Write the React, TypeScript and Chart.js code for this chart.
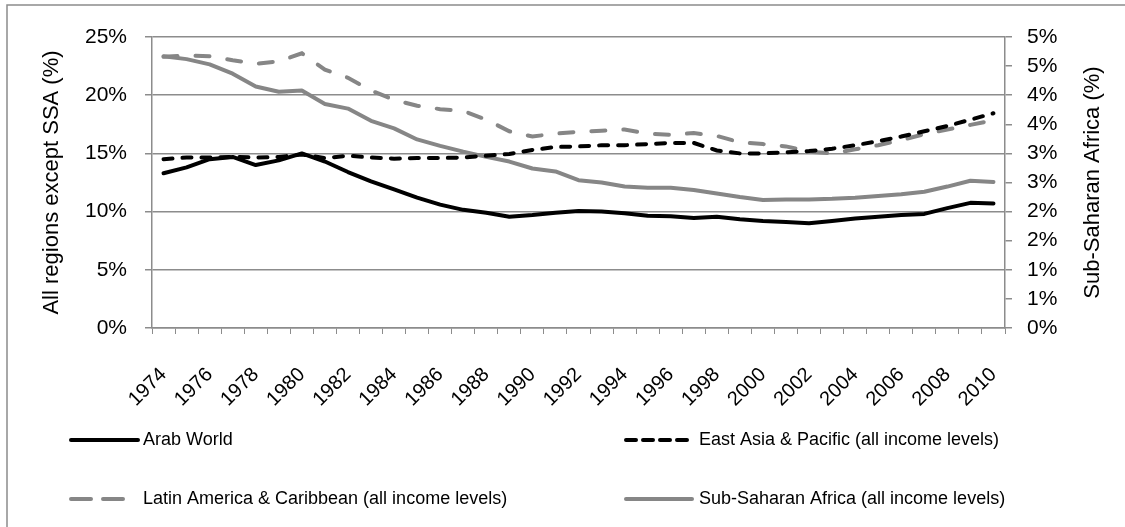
import React, { useEffect, useRef } from 'react';
import { Chart, registerables } from 'chart.js';

Chart.register(...registerables);

const years = [
  '1974', '1975', '1976', '1977', '1978', '1979', '1980', '1981', '1982', '1983',
  '1984', '1985', '1986', '1987', '1988', '1989', '1990', '1991', '1992', '1993',
  '1994', '1995', '1996', '1997', '1998', '1999', '2000', '2001', '2002', '2003',
  '2004', '2005', '2006', '2007', '2008', '2009', '2010',
];

const arabWorld = [
  13.3, 13.8, 14.5, 14.7, 14.0, 14.4, 15.0, 14.3, 13.4, 12.6,
  11.9, 11.2, 10.6, 10.15, 9.9, 9.55, 9.7, 9.9, 10.05, 10.0,
  9.85, 9.65, 9.6, 9.45, 9.55, 9.35, 9.2, 9.1, 9.0, 9.2,
  9.4, 9.55, 9.7, 9.8, 10.3, 10.75, 10.7,
];

const eastAsia = [
  14.5, 14.65, 14.65, 14.7, 14.65, 14.7, 14.9, 14.6, 14.8, 14.65,
  14.55, 14.6, 14.6, 14.65, 14.8, 14.95, 15.3, 15.55, 15.6, 15.7,
  15.7, 15.8, 15.9, 15.9, 15.25, 15.0, 15.0, 15.1, 15.2, 15.4,
  15.7, 16.05, 16.45, 16.9, 17.35, 17.9, 18.45,
];

const latinAmerica = [
  23.3, 23.4, 23.35, 23.0, 22.7, 22.9, 23.6, 22.2, 21.5, 20.4,
  19.6, 19.1, 18.8, 18.65, 17.9, 16.9, 16.45, 16.7, 16.85, 16.95,
  17.05, 16.7, 16.6, 16.75, 16.5, 15.95, 15.8, 15.6, 15.15, 15.0,
  15.35, 15.7, 16.15, 16.65, 17.05, 17.45, 17.85,
];

const subSaharanAfrica = [
  4.67, 4.62, 4.53, 4.37, 4.15, 4.06, 4.08, 3.85, 3.77, 3.56,
  3.43, 3.24, 3.13, 3.03, 2.94, 2.86, 2.74, 2.69, 2.54, 2.5,
  2.43, 2.41, 2.41, 2.37, 2.31, 2.25, 2.2, 2.21, 2.21, 2.22,
  2.24, 2.27, 2.3, 2.34, 2.43, 2.53, 2.51,
];

const seriesLabels = [
  'Arab World',
  'East Asia & Pacific (all income levels)',
  'Latin America & Caribbean (all income levels)',
  'Sub-Saharan Africa (all income levels)',
];

const leftAxisTitle = 'All regions except SSA (%)';
const rightAxisTitle = 'Sub-Saharan Africa (%)';

const FONT = "'Liberation Sans', Arial, sans-serif";
const AXIS_GRAY = '#8c8c8c';
const LINE_GRAY = '#868686';

const decorPlugin = {
  id: 'decor',
  afterDraw(chart: any) {
    const ctx = chart.ctx as CanvasRenderingContext2D;
    const area = chart.chartArea;
    ctx.save();
    // outer frame
    ctx.strokeStyle = AXIS_GRAY;
    ctx.lineWidth = 1.5;
    ctx.strokeRect(7, 5, 1300, 700);

    // right axis title, reading bottom to top
    ctx.save();
    ctx.translate(1093, (area.top + area.bottom) / 2);
    ctx.rotate(-Math.PI / 2);
    ctx.fillStyle = '#000';
    ctx.font = `22px ${FONT}`;
    ctx.textAlign = 'center';
    ctx.textBaseline = 'middle';
    ctx.fillText(rightAxisTitle, 0, 0);
    ctx.restore();

    // legend (2 x 2 grid)
    const legendDash: number[][] = [[], [10, 7], [20, 12], []];
    const legendLen = [67, 66, 52, 66];
    chart.data.datasets.forEach((ds: any, i: number) => {
      const col = i % 2;
      const row = Math.floor(i / 2);
      const x0 = col === 0 ? 71 : 626;
      const y = row === 0 ? 440 : 499;
      ctx.beginPath();
      ctx.setLineDash(legendDash[i]);
      ctx.lineCap = 'round';
      ctx.strokeStyle = ds.borderColor;
      ctx.lineWidth = 4;
      ctx.moveTo(x0, y);
      ctx.lineTo(x0 + legendLen[i], y);
      ctx.stroke();
      ctx.setLineDash([]);
      ctx.fillStyle = '#000';
      ctx.font = `18px ${FONT}`;
      ctx.textBaseline = 'middle';
      ctx.textAlign = 'left';
      ctx.fillText(ds.label, col === 0 ? 143 : 699, y);
    });
    ctx.restore();
  },
};

export default function App() {
  const canvasRef = useRef<HTMLCanvasElement | null>(null);

  useEffect(() => {
    if (!canvasRef.current) return;
    Chart.defaults.color = '#000';
    Chart.defaults.font.family = FONT;

    const chart = new Chart(canvasRef.current, {
      type: 'line',
      data: {
        labels: years,
        datasets: [
          {
            label: seriesLabels[0],
            data: arabWorld,
            borderColor: '#000000',
            borderWidth: 4,
            pointRadius: 0,
            yAxisID: 'y',
            borderCapStyle: 'round',
            borderJoinStyle: 'round',
          },
          {
            label: seriesLabels[1],
            data: eastAsia,
            borderColor: '#000000',
            borderWidth: 4,
            borderDash: [9, 10],
            borderCapStyle: 'round',
            pointRadius: 0,
            yAxisID: 'y',
          },
          {
            label: seriesLabels[2],
            data: latinAmerica,
            borderColor: LINE_GRAY,
            borderWidth: 4,
            borderDash: [14, 18],
            borderCapStyle: 'round',
            pointRadius: 0,
            yAxisID: 'y',
          },
          {
            label: seriesLabels[3],
            data: subSaharanAfrica,
            borderColor: LINE_GRAY,
            borderWidth: 4,
            borderCapStyle: 'round',
            borderJoinStyle: 'round',
            pointRadius: 0,
            yAxisID: 'y1',
          },
        ],
      },
      options: {
        animation: false,
        responsive: true,
        maintainAspectRatio: false,
        layout: { padding: { top: 37, left: 0, right: 0, bottom: 0 } },
        plugins: {
          legend: { display: false },
          tooltip: { enabled: false },
        },
        scales: {
          x: {
            offset: true,
            grid: {
              offset: true,
              drawOnChartArea: false,
              drawTicks: true,
              tickLength: 6,
              color: AXIS_GRAY,
            },
            border: { display: true, color: AXIS_GRAY, width: 1.5 },
            ticks: {
              autoSkip: false,
              maxRotation: 45,
              minRotation: 45,
              padding: 29,
              font: { size: 20, family: FONT },
              color: '#000',
              callback: (_v: any, idx: number) => (idx % 2 === 0 ? years[idx] : ''),
            },
            afterFit: (scale: any) => {
              scale.height = 199;
            },
          },
          y: {
            position: 'left',
            min: 0,
            max: 25,
            grid: {
              color: AXIS_GRAY,
              lineWidth: 1.5,
              drawTicks: true,
              tickLength: 7,
            },
            border: { display: true, color: AXIS_GRAY, width: 1.5 },
            ticks: {
              stepSize: 5,
              padding: 18,
              font: { size: 21, family: FONT },
              color: '#000',
              callback: (v: any) => `${v}%`,
            },
            title: {
              display: true,
              text: leftAxisTitle,
              font: { size: 22, family: FONT },
              color: '#000',
              padding: { top: 39, bottom: 0 },
            },
            afterFit: (scale: any) => {
              scale.width = 152;
            },
          },
          y1: {
            position: 'right',
            min: 0,
            max: 5,
            grid: {
              drawOnChartArea: false,
              drawTicks: true,
              tickLength: 7,
              color: AXIS_GRAY,
              lineWidth: 1.5,
            },
            border: { display: true, color: AXIS_GRAY, width: 1.5 },
            ticks: {
              stepSize: 0.5,
              padding: 15,
              font: { size: 21, family: FONT },
              color: '#000',
              callback: (v: any) => `${Math.round(Number(v))}%`,
            },
            afterFit: (scale: any) => {
              scale.width = 120;
            },
          },
        },
      },
      plugins: [decorPlugin],
    } as any);

    return () => {
      chart.destroy();
    };
  }, []);

  return (
    <div
      style={{
        position: 'fixed',
        left: 0,
        top: 0,
        width: 1125,
        height: 527,
        background: '#fff',
      }}
    >
      <canvas ref={canvasRef} />
    </div>
  );
}
